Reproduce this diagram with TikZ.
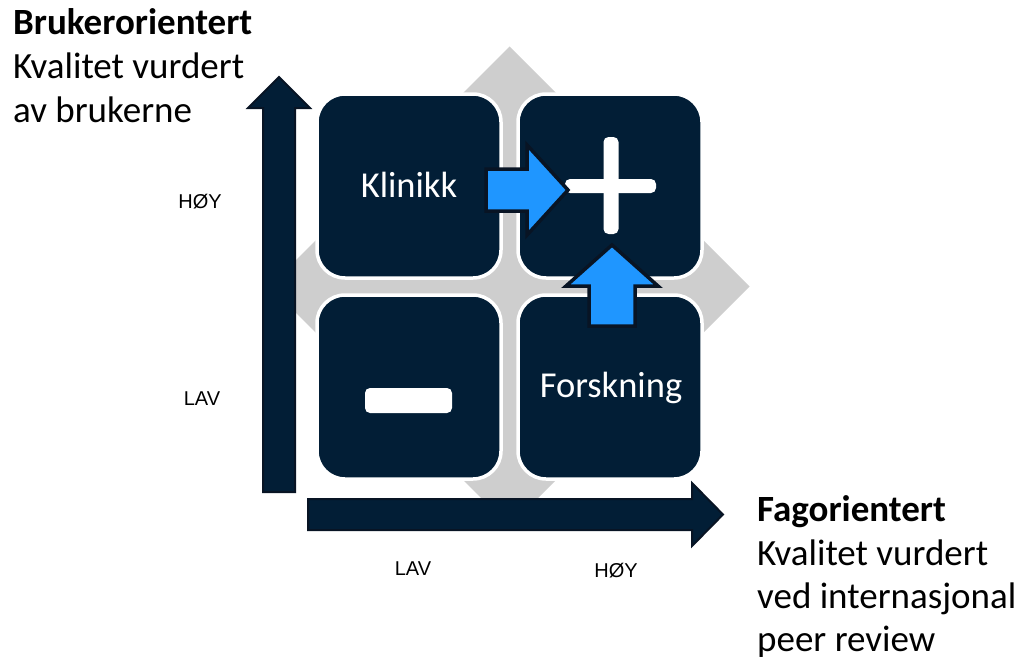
\documentclass[tikz,border=0pt]{standalone}
\usepackage{fontspec}
\setmainfont{Carlito}
\newfontfamily\axisfont{Liberation Sans}

\definecolor{navy}{RGB}{2,30,54}
\definecolor{navyedge}{RGB}{8,20,36}
\definecolor{crossgray}{RGB}{206,206,206}
\definecolor{pointer}{RGB}{31,150,255}

\tikzset{
  tile/.style={draw=white, line width=3.5pt, fill=navy, rounded corners=28pt,
    minimum width=184pt, minimum height=184pt, inner sep=0pt},
  axisarrow/.style={fill=navy, draw=navyedge, line width=2pt, line join=miter},
  pointerarrow/.style={fill=pointer, draw=navyedge, line width=3.5pt, line join=miter},
  sign/.style={fill=white, rounded corners=5pt},
  tiletext/.style={text=white, inner sep=0pt, anchor=base,
    font=\fontsize{36.5}{43}\selectfont},
  headtext/.style={inner sep=0pt, anchor=base west,
    font=\fontsize{37}{43}\selectfont},
  ticktext/.style={inner sep=0pt, anchor=base,
    font=\axisfont\fontsize{20}{24}\selectfont},
}

\begin{document}
\begin{tikzpicture}[x=1pt, y=-1pt]
\useasboundingbox (0,0) rectangle (1023,661);

% gray diamond behind the four tiles
\fill[crossgray] (509.5,46.5) -- (749.5,286.5) -- (509.5,526.5) -- (269.5,286.5) -- cycle;

% axes
\draw[axisarrow] (263,492) -- (263,108) -- (248,108) -- (279,77) -- (310,108)
  -- (295,108) -- (295,492) -- cycle;
\draw[axisarrow] (308,499) -- (692,499) -- (692,483) -- (723,514.5) -- (692,546)
  -- (692,530) -- (308,530) -- cycle;

% the four quadrants
\node[tile] (tl) at (409,186) {};
\node[tile] (tr) at (610,186) {};
\node[tile] (bl) at (409,387) {};
\node[tile] (br) at (610,387) {};

\node[tiletext] (klinikk) at (409,197) {Klinikk};
\node[tiletext] (forskning) at (611,397) {Forskning};

% plus and minus signs
\fill[sign] (565,179) rectangle (656,193);
\fill[sign] (603.5,137) rectangle (618.5,234);
\fill[sign] (365,388) rectangle (452,413);

% arrows pointing into the plus tile
\draw[pointerarrow] (486,169) -- (527,169) -- (527,145) -- (568,190) -- (527,235)
  -- (527,211) -- (486,211) -- cycle;
\draw[pointerarrow] (589,326) -- (589,286) -- (566,286) -- (612,245) -- (658,286)
  -- (635,286) -- (635,326) -- cycle;

% axis level labels
\node[ticktext] (yhigh) at (200,208) {HØY};
\node[ticktext] (ylow) at (202,405) {LAV};
\node[ticktext] (xlow) at (413,575) {LAV};
\node[ticktext] (xhigh) at (616,577) {HØY};

% axis titles
\node[headtext] (ytitle) at (13,35) {\bfseries Brukerorientert};
\node[headtext] (ydesc1) at (13,79) {Kvalitet vurdert};
\node[headtext] (ydesc2) at (13,122) {av brukerne};

\node[headtext] (xtitle) at (757,521) {\bfseries Fagorientert};
\node[headtext] (xdesc1) at (757,565) {Kvalitet vurdert};
\node[headtext] (xdesc2) at (757,608) {ved internasjonal};
\node[headtext] (xdesc3) at (757,651) {peer review};
\end{tikzpicture}
\end{document}
